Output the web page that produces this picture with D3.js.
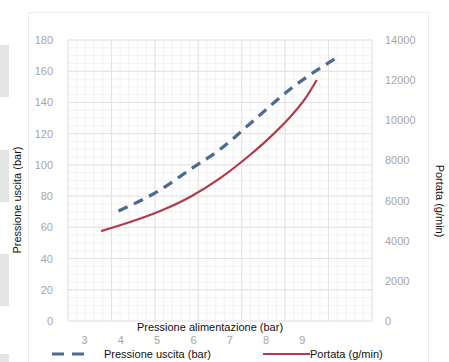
<!DOCTYPE html>
<html>
<head>
<meta charset="utf-8">
<script src="https://cdn.jsdelivr.net/npm/d3@7"></script>
<style>
  body { margin: 0; background: #fff; }
  svg { display: block; font-family: "Liberation Sans", Arial, sans-serif; }
</style>
</head>
<body>
<svg id="chart" width="449" height="362"></svg>
<script>
// feed pressure ticks and series
var xTicks = [3, 4, 5, 6, 7, 8, 9];
var leftTicks = [0, 20, 40, 60, 80, 100, 120, 140, 160, 180];
var rightTicks = [0, 2000, 4000, 6000, 8000, 10000, 12000, 14000];

var uscitaX = [3.95, 5.1, 5.92, 6.75, 7.7, 8.65, 9.5, 10.05];
var uscitaY = [70.5, 84, 97, 110, 129, 148, 162, 170];

var portataX = [3.47, 4.27, 5.1, 5.92, 6.75, 7.57, 8.12, 8.67, 9.08, 9.41];
var portataY = [4480, 4930, 5480, 6180, 7120, 8270, 9150, 10150, 11050, 12010];

var svg = d3.select("#chart");

var plot = { left: 68, right: 372, top: 40, bottom: 321 };

var x = d3.scaleLinear().domain([2.56, 10.93]).range([plot.left, plot.right]);
var yL = d3.scaleLinear().domain([0, 180]).range([plot.bottom, plot.top]);
var yR = d3.scaleLinear().domain([0, 14000]).range([plot.bottom, plot.top]);

// grey side blocks and panel border
[45, 150, 254, 354].forEach(function (t) {
    svg.append("rect").attr("x", 0).attr("y", t).attr("width", 9).attr("height", 52)
        .attr("fill", "#e4e4e4");
});
svg.append("rect").attr("x", 28.5).attr("y", 12.5).attr("width", 400).attr("height", 360)
    .attr("fill", "none").attr("stroke", "#ececec");

// gridlines
var g = svg.append("g");
var xd = x.domain(), step = (xd[1] - xd[0]) / 7;
var minorX = d3.range(36).map(function (i) { return xd[0] + i * step / 5; });
var majorX = d3.range(8).map(function (i) { return xd[0] + i * step; });
var minorY = d3.range(0, 181, 5);

g.selectAll(".minx").data(minorX).enter().append("line")
    .attr("x1", d => x(d)).attr("x2", d => x(d))
    .attr("y1", plot.top).attr("y2", plot.bottom)
    .attr("stroke", "#f2f2f2");
g.selectAll(".miny").data(minorY).enter().append("line")
    .attr("x1", plot.left).attr("x2", plot.right)
    .attr("y1", d => yL(d)).attr("y2", d => yL(d))
    .attr("stroke", "#f2f2f2");
g.selectAll(".majx").data(majorX).enter().append("line")
    .attr("x1", d => x(d)).attr("x2", d => x(d))
    .attr("y1", plot.top).attr("y2", plot.bottom)
    .attr("stroke", "#e2e2e2");
g.selectAll(".majy").data(leftTicks).enter().append("line")
    .attr("x1", plot.left).attr("x2", plot.right)
    .attr("y1", d => yL(d)).attr("y2", d => yL(d))
    .attr("stroke", "#e2e2e2");

// axes
var left = svg.append("g").attr("transform", "translate(56,0)")
    .call(d3.axisLeft(yL).tickValues(leftTicks).tickSize(0).tickPadding(3));
var right = svg.append("g").attr("transform", "translate(382,0)")
    .call(d3.axisRight(yR).tickValues(rightTicks).tickFormat(d3.format("d")).tickSize(0).tickPadding(3));
var bottom = svg.append("g").attr("transform", "translate(0,333)")
    .call(d3.axisBottom(x).tickValues(xTicks).tickSize(0).tickPadding(3));
[left, right, bottom].forEach(function (a) {
    a.select(".domain").remove();
    a.selectAll("text").attr("fill", "#a6a6a6").style("font-size", "11px")
        .style("font-family", "'Liberation Sans', Arial, sans-serif");
});

// series
var line = d3.line().curve(d3.curveMonotoneX);
var uscita = uscitaX.map((v, i) => [x(v), yL(uscitaY[i])]);
var portata = portataX.map((v, i) => [x(v), yR(portataY[i])]);

svg.append("path").attr("d", line(portata)).attr("fill", "none")
    .attr("stroke", "#b5394a").attr("stroke-width", 2.2);
svg.append("path").attr("d", line(uscita)).attr("fill", "none")
    .attr("stroke", "#4d6a93").attr("stroke-width", 3.2)
    .attr("stroke-dasharray", "10,7");

// titles
svg.append("text").attr("x", 210).attr("y", 331).attr("text-anchor", "middle")
    .style("font-size", "11px").attr("fill", "#111").text("Pressione alimentazione (bar)");
svg.append("text").attr("transform", "translate(21,200) rotate(-90)").attr("text-anchor", "middle")
    .style("font-size", "11px").attr("fill", "#111").text("Pressione uscita (bar)");
svg.append("text").attr("transform", "translate(436,201) rotate(90)").attr("text-anchor", "middle")
    .style("font-size", "11px").attr("fill", "#111").text("Portata (g/min)");

// legend
var leg = svg.append("g");
leg.append("line").attr("x1", 52).attr("x2", 84).attr("y1", 354).attr("y2", 354)
    .attr("stroke", "#4d6a93").attr("stroke-width", 3.2).attr("stroke-dasharray", "12,8");
leg.append("text").attr("x", 104).attr("y", 358).style("font-size", "11px").attr("fill", "#111")
    .text("Pressione uscita (bar)");
leg.append("line").attr("x1", 263).attr("x2", 310).attr("y1", 354).attr("y2", 354)
    .attr("stroke", "#b5394a").attr("stroke-width", 2.2);
leg.append("text").attr("x", 310).attr("y", 358).style("font-size", "11px").attr("fill", "#111")
    .text("Portata (g/min)");
</script>
</body>
</html>
